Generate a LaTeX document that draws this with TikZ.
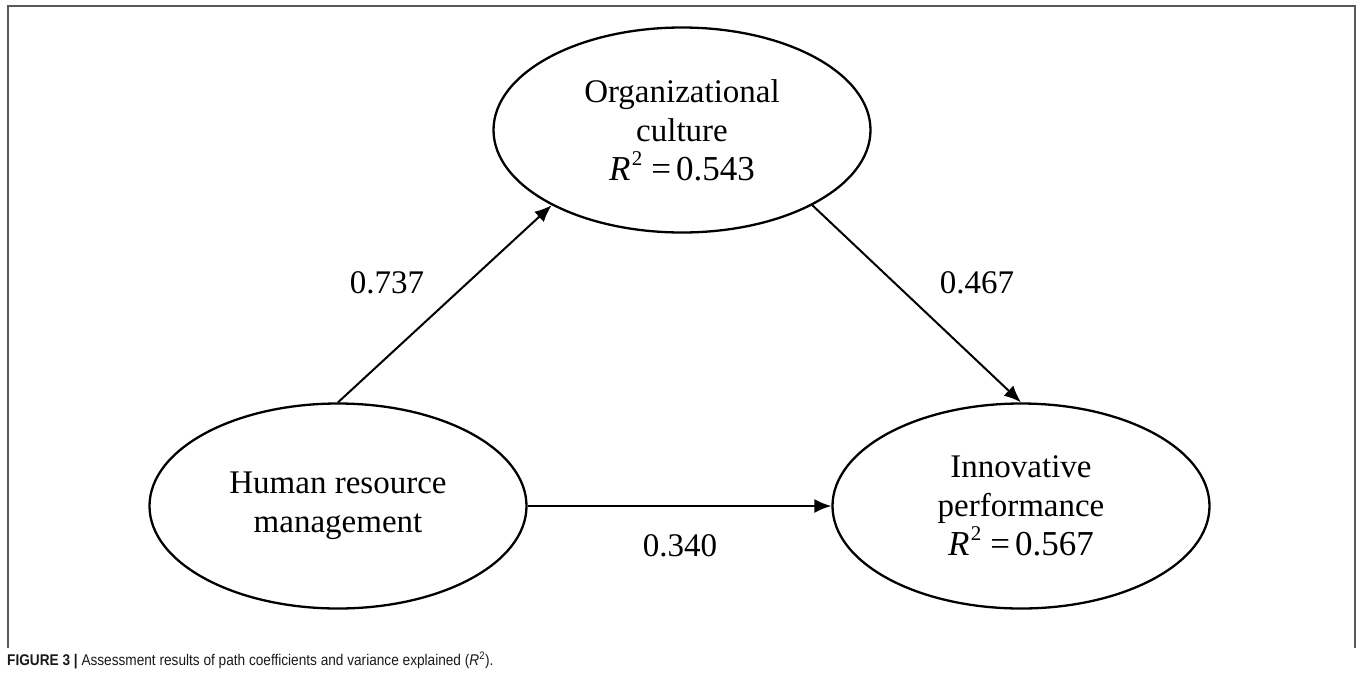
\documentclass[tikz,border=0pt]{standalone}
\usepackage{fontspec}
\setmainfont{Liberation Serif}
\newfontfamily\capfont[FakeStretch=0.88]{Liberation Sans}
\usetikzlibrary{shapes.geometric,arrows.meta}
\newcommand\rsqval[1]{{\fontsize{35}{39}\selectfont\textit{R}\hspace{1.5pt}\raisebox{0.42em}{\fontsize{21}{21}\selectfont 2}\hspace{9pt}=\hspace{5pt}#1}}
\begin{document}
\begin{tikzpicture}[x=1pt,y=-1pt,
  latent/.style={ellipse,draw,line width=2.3pt,minimum width=377pt,minimum height=205pt,
    inner sep=0pt,align=center,font=\fontsize{33}{39}\selectfont},
  pathedge/.style={line width=2pt,-{Latex[length=17pt,width=14pt]}},
  coef/.style={font=\fontsize{33}{39}\selectfont,inner sep=0pt},
  frameline/.style={draw=black!65,line width=2pt}]
\useasboundingbox (0,0) rectangle (1357,681);
\draw[frameline] (8,648) -- (8,6) -- (1355,6) -- (1355,648);

\node[latent] (org) at (682,130) {Organizational\\culture\\\rsqval{0.543}};
\node[latent] (hrm) at (338,506) {Human resource\\management};
\node[latent] (inn) at (1021,506) {Innovative\\performance\\\rsqval{0.567}};

\draw[pathedge] (hrm.north) -- (org.210);
\draw[pathedge] (org.-30) -- (inn.north);
\draw[pathedge] (hrm.east) -- (inn.west);

\node[coef] (c1) at (387,283) {0.737};
\node[coef] (c2) at (977,283) {0.467};
\node[coef] (c3) at (680,546) {0.340};

\node[anchor=base west,inner sep=0pt,font=\capfont\fontsize{15.5}{18}\selectfont,text=black!90] (cap) at (7,665)
  {\textbf{FIGURE 3 |} Assessment results of path coefficients and variance explained (\textit{R}\textsuperscript{2}).};
\end{tikzpicture}
\end{document}
